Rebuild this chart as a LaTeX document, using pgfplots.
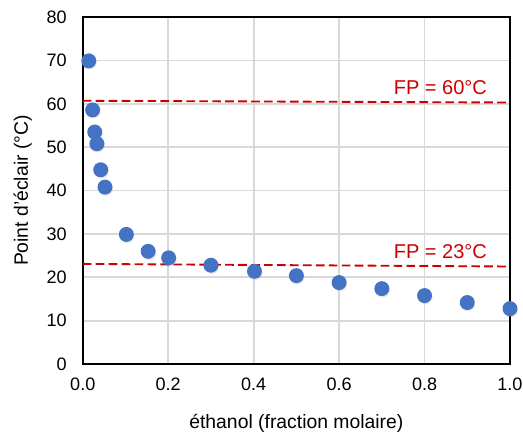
\documentclass[border=0pt]{standalone}
\usepackage{pgfplots}
\pgfplotsset{compat=1.18}
\usepackage{fontspec}
\setmainfont{Liberation Sans}
\definecolor{ptblue}{RGB}{68,114,196}
\definecolor{fpred}{RGB}{204,0,0}
\definecolor{gridgray}{RGB}{217,217,217}
\pgfplotstableread{
x y
0.014 69.9
0.023 58.6
0.028 53.5
0.033 50.8
0.042 44.8
0.052 40.8
0.102 29.9
0.153 26.0
0.201 24.5
0.300 22.8
0.402 21.4
0.500 20.4
0.600 18.8
0.700 17.4
0.800 15.8
0.900 14.2
1.000 12.8
}\fpdata
\begin{document}
\begin{tikzpicture}
\begin{axis}[
  scale only axis,
  width=320pt, height=260pt,
  xmin=0, xmax=1, ymin=0, ymax=80,
  xtick={0,0.2,0.4,0.6,0.8,1.0},
  xticklabels={0.0,0.2,0.4,0.6,0.8,1.0},
  ytick={0,10,20,30,40,50,60,70,80},
  /pgf/number format/assume math mode=true,
  tick label style={font=\fontsize{13.5}{15}\selectfont},
  yticklabel style={anchor=east, xshift=-8.5pt},
  xticklabel style={anchor=center, yshift=-15pt},
  every axis x label/.style={at={(axis description cs:0.5,0)}, anchor=center, yshift=-44.5pt, font=\fontsize{14.5}{16}\selectfont},
  every axis y label/.style={at={(axis description cs:0,0.5)}, anchor=center, rotate=90, yshift=45pt, font=\fontsize{14.5}{16}\selectfont},
  xlabel={éthanol (fraction molaire)},
  ylabel={Point d'éclair (°C)},
  grid=major,
  major grid style={gridgray, line width=1.3pt},
  major tick length=0pt,
  axis line style={black, line width=1.2pt},
  clip=false,
  axis on top=false,
]
\coordinate (bl) at (rel axis cs:0,0);
\coordinate (tr) at (rel axis cs:1,1);
\addplot[fpred, line width=1.4pt, dash pattern=on 6.5pt off 3.2pt] coordinates {(0,60.7) (1,60.3)};
\addplot[fpred, line width=1.4pt, dash pattern=on 6.5pt off 3.2pt] coordinates {(0,23.1) (1,22.5)};
\addplot[only marks, gray, mark=*, mark size=5.6pt, mark options={draw opacity=0, fill=gray, fill opacity=0.18}, shift={(0.5pt,-1.0pt)}] table[x=x,y=y] {\fpdata};
\addplot[only marks, ptblue, mark=*, mark size=5.6pt, mark options={draw opacity=0, fill=ptblue}] table[x=x,y=y] {\fpdata};
\node[fpred, font=\fontsize{15}{17}\selectfont] at (axis cs:0.837,63.8) {FP = 60°C};
\node[fpred, font=\fontsize{15}{17}\selectfont] at (axis cs:0.837,25.9) {FP = 23°C};
\end{axis}
\pgfresetboundingbox
\path[use as bounding box] ([xshift=-62pt,yshift=-51.75pt]bl) rectangle ([xshift=9.75pt,yshift=12.75pt]tr);
\end{tikzpicture}
\end{document}
